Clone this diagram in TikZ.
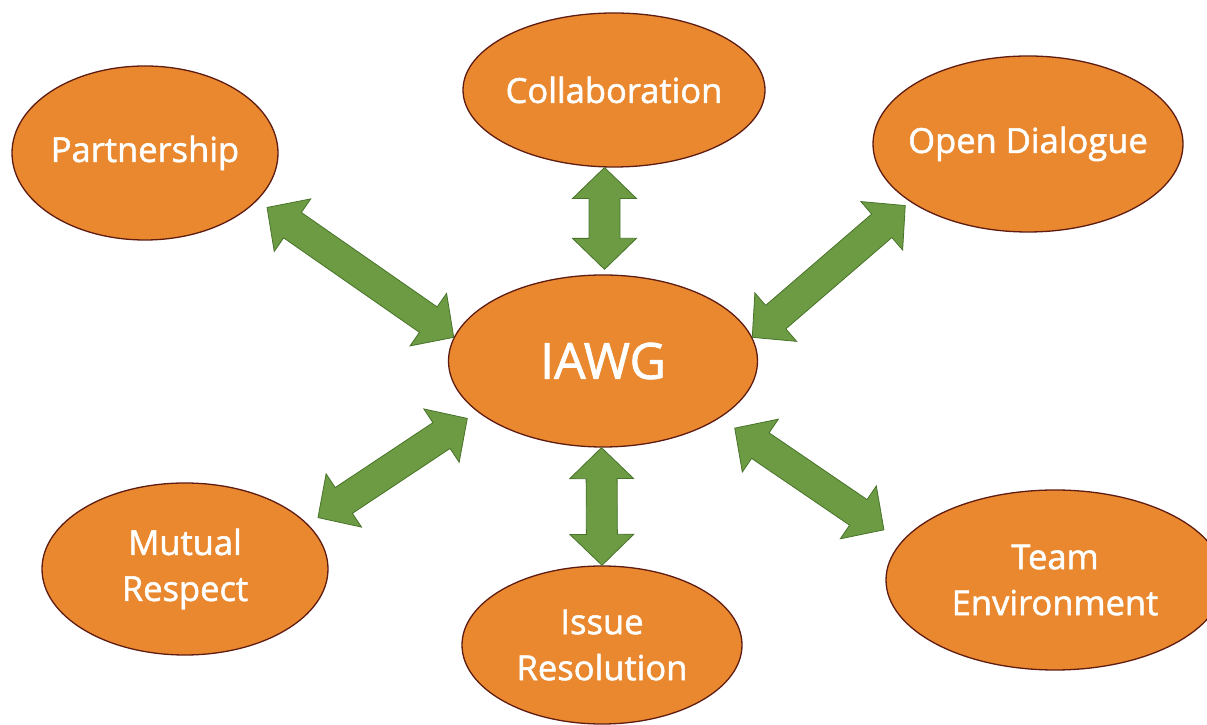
\documentclass[tikz,border=0pt]{standalone}
\usepackage{fontspec}
\setmainfont{Open Sans}
\newfontfamily\bubblefont{Open Sans}[FakeBold=1.5]
\usetikzlibrary{calc,shapes.geometric}
\definecolor{bubble}{RGB}{233,136,46}
\definecolor{bubbleline}{RGB}{95,28,18}
\definecolor{leaf}{RGB}{108,155,68}
\definecolor{leafline}{RGB}{72,115,42}

% block arrow with a head at both ends, from #1 to #2, ends moved in by #3 and #4
\newcommand\twoway[4]{%
	\draw[twoway] let \p1=($(#1)!#3pt!(#2)$), \p2=($(#2)!#4pt!(#1)$),
		\n1={atan2(\y2-\y1,\x2-\x1)}, \n2={veclen(\x2-\x1,\y2-\y1)} in
		{[shift={(\p1)},rotate=\n1]
		(0,0) -- (31,32) -- (31,15.5) -- (\n2-31,15.5) -- (\n2-31,32) -- (\n2,0)
		-- (\n2-31,-32) -- (\n2-31,-15.5) -- (31,-15.5) -- (31,-32) -- cycle};}

\begin{document}
\begin{tikzpicture}[x=1pt,y=1pt,
	bubble/.style={ellipse, draw=bubbleline, line width=1.3pt, fill=bubble, inner ysep=0pt, inner xsep=-15pt,
		text=white, align=center, font=\bubblefont\fontsize{34.5}{46}\selectfont},
	twoway/.style={draw=leafline, fill=leaf, line width=0.8pt, line join=miter}]
			\useasboundingbox (0,0) rectangle (1207,725);
			\node	(iawg) at (603,364) [bubble, minimum width=309pt, minimum height=172pt, font=\bubblefont\fontsize{50}{60}\selectfont] {IAWG};
			\node	(coll) at (614,635) [bubble, minimum width=302pt, minimum height=154pt] {Collaboration};
			\node	(part) at (145,572) [bubble, minimum width=266pt, minimum height=174pt] {Partnership};
			\node	(open) at (1028,581) [bubble, minimum width=310pt, minimum height=176pt] {Open Dialogue};
			\node	(mutual) at (185,156) [bubble, minimum width=286pt, minimum height=172pt] {Mutual\\Respect};
			\node	(issue) at (602,80) [bubble, minimum width=280pt, minimum height=158pt] {Issue\\Resolution};
			\node	(team) at (1055,145) [bubble, minimum width=338pt, minimum height=180pt] {Team\\Environment};
			\twoway{coll.263}{iawg.89}{0}{5}
			\twoway{part.337}{iawg.171}{12}{0}
			\twoway{open.206}{iawg.9}{6}{0}
			\twoway{mutual.20}{iawg.202}{12}{12}
			\twoway{team.166}{iawg.334}{21}{18}
			\twoway{iawg.269}{issue.90}{0}{0}
\end{tikzpicture}
\end{document}
